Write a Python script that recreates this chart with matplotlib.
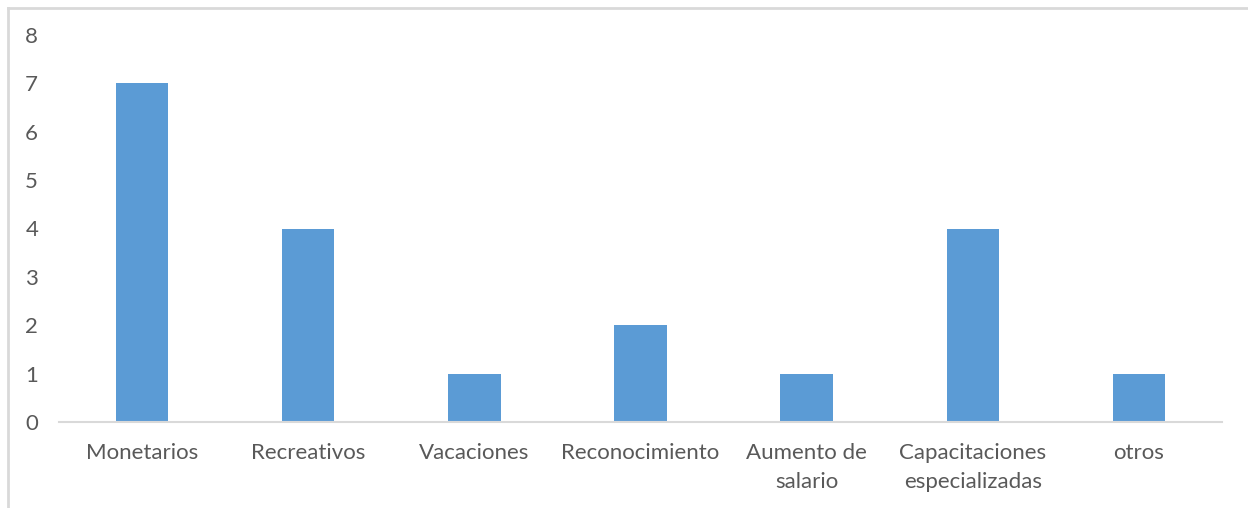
import matplotlib
matplotlib.use("Agg")
import matplotlib.pyplot as plt
from matplotlib.lines import Line2D

categories = ["Monetarios", "Recreativos", "Vacaciones", "Reconocimiento",
              "Aumento de\nsalario", "Capacitaciones\nespecializadas", "otros"]
values = [7, 4, 1, 2, 1, 4, 1]
yticks = [0, 1, 2, 3, 4, 5, 6, 7, 8]

W, H = 1248, 508
fig = plt.figure(figsize=(W / 100, H / 100), dpi=100)
fig.patch.set_facecolor("white")

# chart frame (top and left edges)
edge = "#d9d9d9"
fig.add_artist(Line2D([7.5 / W, 7.5 / W], [0, 1 - 7.5 / H], transform=fig.transFigure, color=edge, lw=2))
fig.add_artist(Line2D([7.5 / W, 1], [1 - 7.5 / H, 1 - 7.5 / H], transform=fig.transFigure, color=edge, lw=2))

left, right = 59 / W, 1222 / W
bottom, top = 1 - 422 / H, 1 - 35 / H
ax = fig.add_axes([left, bottom, right - left, top - bottom])

x = range(len(categories))
ax.bar(x, values, width=0.315, color="#5b9bd5", zorder=2)

ax.set_xlim(-0.5, len(categories) - 0.5)
ax.set_ylim(0, 8)
ax.set_yticks(yticks)
ax.set_xticks(list(x))
ax.set_xticklabels(categories, fontsize=16, color="#595959", family="Lato", linespacing=1.6)
ax.set_yticklabels([str(t) for t in yticks], fontsize=16, color="#595959", family="Lato")

for s in ["top", "right", "left"]:
    ax.spines[s].set_visible(False)
ax.spines["bottom"].set_color("#d9d9d9")
ax.spines["bottom"].set_linewidth(1.5)
ax.tick_params(axis="both", length=0)
ax.tick_params(axis="x", pad=15)
ax.tick_params(axis="y", pad=15)

fig.savefig("out.png", dpi=100, facecolor="white")
